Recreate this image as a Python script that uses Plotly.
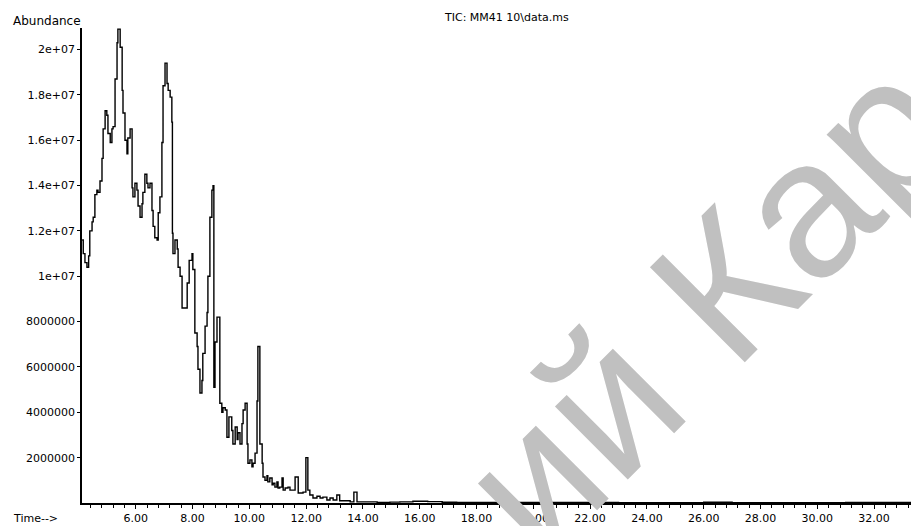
import plotly.graph_objects as go

# Retention time (min) and TIC abundance (x 1e6)
time_min = [4.11, 4.15, 4.21, 4.28, 4.34, 4.38, 4.46, 4.50, 4.56, 4.63, 4.67, 4.74, 4.81, 4.85, 4.92,
            4.98, 5.02, 5.10, 5.16, 5.20, 5.27, 5.34, 5.37, 5.45, 5.52, 5.55, 5.62, 5.69, 5.72, 5.80,
            5.87, 5.90, 5.97, 6.04, 6.08, 6.15, 6.22, 6.25, 6.32, 6.39, 6.43, 6.50, 6.57, 6.61, 6.67,
            6.75, 6.79, 6.85, 6.92, 6.96, 7.03, 7.10, 7.14, 7.21, 7.27, 7.29, 7.31, 7.38, 7.46, 7.49,
            7.56, 7.63, 7.73, 7.81, 7.88, 7.98, 8.01, 8.08, 8.16, 8.19, 8.26, 8.33, 8.36, 8.44, 8.51,
            8.54, 8.61, 8.68, 8.72, 8.75, 8.79, 8.86, 8.90, 8.96, 9.03, 9.07, 9.15, 9.21, 9.28, 9.38,
            9.42, 9.50, 9.57, 9.60, 9.67, 9.74, 9.78, 9.85, 9.92, 9.95, 10.02, 10.09, 10.13, 10.20, 10.27,
            10.30, 10.37, 10.45, 10.48, 10.55, 10.62, 10.65, 10.72, 10.80, 10.84, 10.90, 10.97, 11.01, 11.07, 11.15,
            11.19, 11.26, 11.32, 11.36, 11.43, 11.54, 11.61, 11.68, 11.72, 11.78, 11.89, 11.99, 12.06, 12.13, 12.24,
            12.38, 12.49, 12.59, 12.73, 12.84, 12.95, 13.08, 13.18, 13.55, 13.68, 13.79, 14.14, 14.50, 14.95, 15.30,
            15.76, 16.28, 16.79, 17.30, 18.00, 19.00, 20.00, 21.00, 22.00, 23.00, 24.00, 25.00, 26.00, 26.50, 27.00,
            28.00, 29.00, 30.00, 31.00, 32.00, 33.30]
abundance_m = [11.6, 11.0, 10.6, 10.4, 10.9, 12.0, 12.4, 12.6, 13.6, 13.8, 13.7, 14.2, 15.2, 16.5, 17.3,
               17.1, 16.3, 15.9, 16.5, 16.6, 18.7, 20.3, 20.9, 20.1, 18.2, 17.2, 16.0, 15.4, 16.1, 16.5,
               13.9, 13.5, 14.1, 13.8, 13.1, 12.6, 13.2, 13.7, 14.5, 14.1, 13.9, 14.1, 12.9, 12.2, 11.7,
               11.6, 12.8, 13.5, 15.9, 18.4, 19.4, 18.5, 18.2, 17.9, 16.8, 11.9, 11.0, 11.6, 11.2, 10.4,
               10.0, 8.6, 8.6, 9.7, 10.7, 11.0, 10.3, 7.5, 6.9, 5.9, 4.85, 5.4, 6.6, 7.8, 8.4,
               10.0, 12.6, 13.8, 14.0, 5.1, 7.1, 8.2, 8.2, 4.4, 4.0, 4.2, 4.1, 2.9, 3.8, 3.2,
               2.6, 3.35, 2.8, 3.1, 2.6, 3.5, 4.1, 4.4, 2.6, 1.75, 1.9, 1.6, 1.75, 2.2, 4.5,
               6.9, 2.6, 1.75, 1.15, 1.0, 1.2, 0.93, 1.1, 0.8, 0.87, 0.7, 0.93, 0.66, 0.7, 1.1,
               0.57, 0.66, 0.66, 0.7, 0.57, 0.57, 1.15, 1.15, 0.44, 0.44, 0.48, 2.0, 0.57, 0.35, 0.22,
               0.3, 0.22, 0.26, 0.13, 0.22, 0.13, 0.35, 0.1, 0.05, 0.48, 0.05, 0.05, 0.02, 0.04, 0.05,
               0.08, 0.06, 0.03, 0.02, 0.02, 0.02, 0.02, 0.02, 0.02, 0.01, 0.01, 0.01, 0.03, 0.03, 0.01,
               0.01, 0.01, 0.01, 0.02, 0.02, 0.02]

y_tick_vals = [2e6, 4e6, 6e6, 8e6, 1e7, 1.2e7, 1.4e7, 1.6e7, 1.8e7, 2e7]
y_tick_text = ["2000000", "4000000", "6000000", "8000000", "1e+07", "1.2e+07", "1.4e+07", "1.6e+07", "1.8e+07", "2e+07"]
x_tick_vals = [6, 8, 10, 12, 14, 16, 18, 20, 22, 24, 26, 28, 30, 32]
x_tick_text = ["6.00", "8.00", "10.00", "12.00", "14.00", "16.00", "18.00", "20.00", "22.00",
               "24.00", "26.00", "28.00", "30.00", "32.00"]

title_text = "TIC: MM41 10\\data.ms"
y_label = "Abundance"
x_label = "Time-->"
watermark = "ий Кар"

abundance = [v * 1e6 for v in abundance_m]

FONT = "DejaVu Sans"

fig = go.Figure()
fig.add_trace(go.Scatter(x=time_min, y=abundance, mode="lines", line=dict(color="black", width=1.4, shape="hv"),
                         showlegend=False, hoverinfo="skip"))

fig.update_layout(
    width=911, height=526,
    margin=dict(l=82, r=0, t=28, b=23),
    paper_bgcolor="white", plot_bgcolor="white",
    font=dict(family=FONT, size=11, color="black"),
    xaxis=dict(range=[4.106, 33.30], showgrid=False, zeroline=False, showline=True, linecolor="black",
               linewidth=1.5, ticks="outside", ticklen=4, tickwidth=1.2, tickcolor="black",
               tickmode="array", tickvals=x_tick_vals, ticktext=x_tick_text,
               tickfont=dict(family=FONT, size=11),
               minor=dict(ticks="outside", dtick=0.4, tick0=6, ticklen=3, tickcolor="black", tickwidth=1, showgrid=False)),
    yaxis=dict(range=[0, 2.095e7], showgrid=False, zeroline=False, showline=True, linecolor="black",
               linewidth=1.5, ticks="outside", ticklen=3, tickwidth=1.2, tickcolor="black",
               tickmode="array", tickvals=y_tick_vals, ticktext=y_tick_text,
               tickfont=dict(family=FONT, size=11)),
)

fig.add_annotation(text=title_text, xref="paper", yref="paper", x=(506 - 82) / 829, y=(503 - 17) / 475,
                   showarrow=False, xanchor="center", yanchor="middle", font=dict(family=FONT, size=11))
fig.add_annotation(text=y_label, xref="paper", yref="paper", x=(11 - 82) / 829, y=(503 - 21) / 475,
                   showarrow=False, xanchor="left", yanchor="middle", font=dict(family=FONT, size=12))
fig.add_annotation(text=x_label, xref="paper", yref="paper", x=(11 - 82) / 829, y=(503 - 518) / 475,
                   showarrow=False, xanchor="left", yanchor="middle", font=dict(family=FONT, size=11))
fig.add_annotation(text=watermark, xref="paper", yref="paper", x=(706 - 82) / 829, y=(503 - 305) / 475,
                   showarrow=False, xanchor="center", yanchor="middle", textangle=-45,
                   font=dict(family="Liberation Sans", size=195, color="#c0c0c0"))

fig.write_html("out.html")
